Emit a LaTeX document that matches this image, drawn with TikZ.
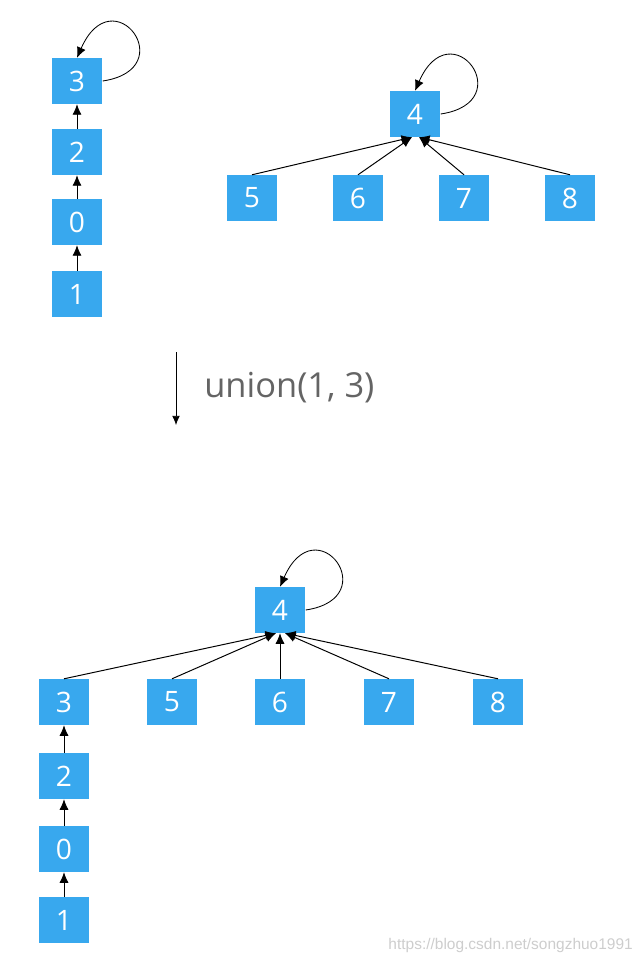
\documentclass[tikz,border=0pt]{standalone}
\usepackage{fontspec}
\setmainfont{Open Sans}
\newfontfamily\markfont{Liberation Sans}
\usetikzlibrary{arrows.meta,calc}
\definecolor{boxblue}{RGB}{56,168,238}
\definecolor{labelgray}{RGB}{100,100,100}
\definecolor{markgray}{RGB}{205,205,205}

\begin{document}
\begin{tikzpicture}[x=0.025cm, y=-0.025cm,
  box/.style={fill=boxblue, text=white, minimum width=36.2pt, minimum height=32.6pt,
    inner sep=0pt, font=\fontsize{20}{20}\selectfont},
  link/.style={-{Latex[length=7.5pt,width=6.5pt]}, line width=0.7pt},
  selfloop/.style={link, line width=0.6pt}]
\useasboundingbox (0,0) rectangle (640,964);

%before: chain 1 -> 0 -> 2 -> 3
\node[box] (a3) at (77,81) {3};
\node[box] (a2) at (77,152) {2};
\node[box] (a0) at (77,222) {0};
\node[box] (a1) at (77,294) {1};
\draw[link] (a1) -- (a0);
\draw[link] (a0) -- (a2);
\draw[link] (a2) -- (a3);
\draw[selfloop] (a3.east) .. controls +(80,-12) and +(36,-82) .. (a3.north);

%before: star around 4
\node[box] (a4) at (415,114) {4};
\node[box] (a5) at (252,198) {5};
\node[box] (a6) at (358,198) {6};
\node[box] (a7) at (464,198) {7};
\node[box] (a8) at (570,198) {8};
\draw[link] (a5.north) -- ($(a4.south)+(-3,0)$);
\draw[link] (a6.north) -- ($(a4.south)+(-3,0)$);
\draw[link] (a7.north) -- ($(a4.south)+(4,0)$);
\draw[link] (a8.north) -- ($(a4.south)+(4,0)$);
\draw[selfloop] (a4.east) .. controls +(80,-12) and +(36,-82) .. (a4.north);

%operation
\coordinate (opstart) at (176,352);
\coordinate (opend) at (176,425);
\draw[-{Latex[length=6.5pt,width=5.5pt]}, line width=0.6pt] (opstart) -- (opend);
\node[anchor=west, text=labelgray, font=\fontsize{24.5}{24.5}\selectfont, inner sep=0pt] (op) at (204,388) {union(1, 3)};

%after: 3 hangs under 4
\node[box] (b4) at (280,610) {4};
\node[box] (b3) at (64,702) {3};
\node[box] (b5) at (172,702) {5};
\node[box] (b6) at (280,702) {6};
\node[box] (b7) at (389,702) {7};
\node[box] (b8) at (498,702) {8};
\node[box] (b2) at (64,776) {2};
\node[box] (b0) at (64,849) {0};
\node[box] (b1) at (64,920) {1};
\draw[link] (b3.north) -- ($(b4.south)+(-4,0)$);
\draw[link] (b5.north) -- ($(b4.south)+(-4,0)$);
\draw[link] (b6.north) -- (b4.south);
\draw[link] (b7.north) -- ($(b4.south)+(5,0)$);
\draw[link] (b8.north) -- ($(b4.south)+(5,0)$);
\draw[link] (b1) -- (b0);
\draw[link] (b0) -- (b2);
\draw[link] (b2) -- (b3);
\draw[selfloop] (b4.east) .. controls +(80,-12) and +(36,-82) .. (b4.north);

%watermark
\node[anchor=east, text=markgray, font=\markfont\fontsize{11}{11}\selectfont, inner sep=0pt] (mark) at (633,945) {https://blog.csdn.net/songzhuo1991};
\end{tikzpicture}
\end{document}
